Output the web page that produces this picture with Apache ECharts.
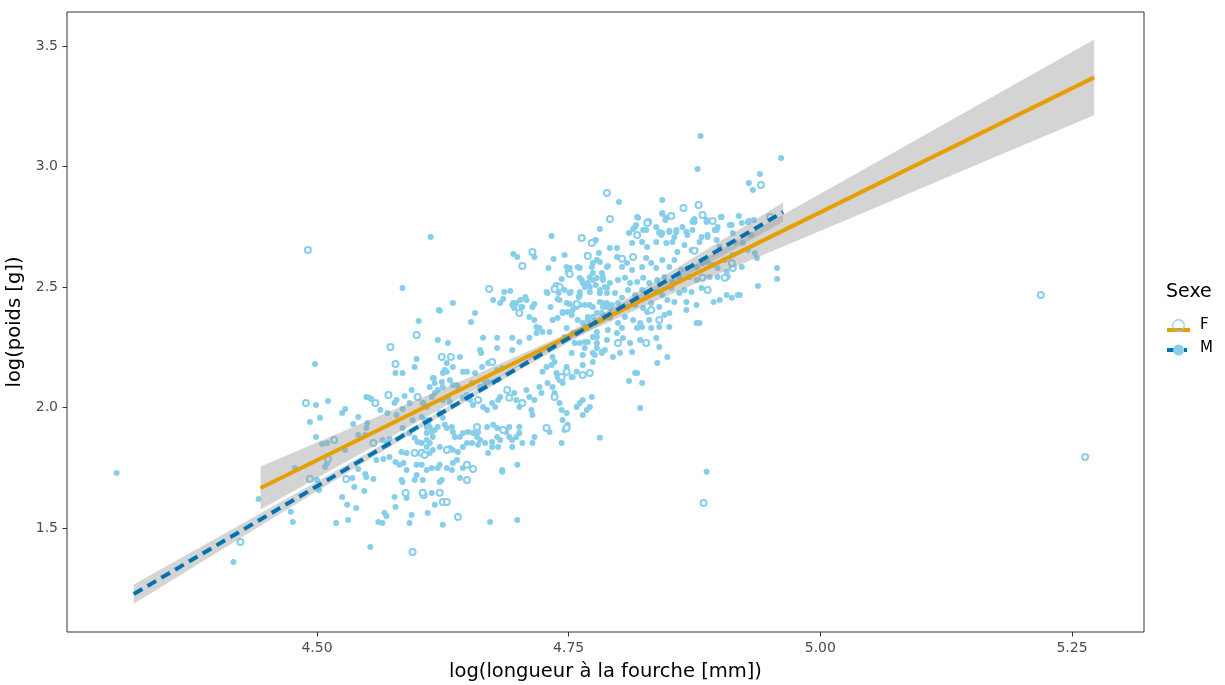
<!DOCTYPE html>
<html><head><meta charset="utf-8">
<script src="https://cdn.jsdelivr.net/npm/echarts@6/dist/echarts.min.js"></script>
<style>html,body{margin:0;padding:0;background:#fff}#c{width:1225px;height:685px}</style>
</head><body><div id="c"></div>
<script>
// ---- Data ----
const xTicks = [4.50, 4.75, 5.00, 5.25];
const yTicks = [1.5, 2.0, 2.5, 3.0, 3.5];
const legendLabels = ['F', 'M'];

// Females (open circles)
const femalePoints = [
[4.489,2.019],[4.558,2.019],[4.571,2.052],[4.600,2.044],[4.517,1.865],[4.556,1.853],[4.511,1.786],[4.493,1.703],
[4.529,1.703],[4.588,1.645],[4.595,1.400],[4.606,1.637],[4.597,1.811],[4.604,1.811],[4.424,1.442],[4.491,2.654],
[4.599,2.301],[4.573,2.251],[4.578,2.181],[4.624,2.210],[4.633,2.210],[4.674,2.189],[4.660,2.031],[4.689,2.073],
[4.691,2.040],[4.704,2.019],[4.764,2.135],[4.771,2.143],[4.736,2.044],[4.748,1.915],[4.728,1.915],[4.748,2.148],
[4.701,2.392],[4.607,1.803],[4.629,1.824],[4.659,1.919],[4.685,1.907],[4.649,1.699],[4.649,1.762],[4.655,1.745],
[4.605,1.646],[4.622,1.646],[4.625,1.608],[4.629,1.608],[4.640,1.546],[4.763,2.703],[4.773,2.683],[4.714,2.645],
[4.704,2.587],[4.751,2.554],[4.738,2.504],[4.741,2.500],[4.736,2.492],[4.758,2.430],[4.671,2.492],[4.769,2.629],
[4.803,2.617],[4.788,2.890],[4.941,2.923],[4.864,2.828],[4.879,2.840],[4.791,2.782],[4.852,2.795],[4.829,2.770],
[4.883,2.799],[4.893,2.774],[4.818,2.716],[4.828,2.766],[4.814,2.625],[4.875,2.650],[4.913,2.579],[4.883,2.538],
[4.905,2.538],[4.888,2.488],[4.832,2.405],[4.840,2.363],[4.799,2.268],[4.827,2.268],[4.743,2.127],[4.884,1.604],
[4.950,2.791],[4.912,2.600],[5.219,2.467],[5.263,1.795]
];

// Males (filled circles)
const malePoints = [
[4.301,1.728],[4.417,1.359],[4.442,1.620],
[4.499,2.010],[4.511,2.027],[4.493,1.940],[4.503,1.957],[4.525,1.977],[4.528,1.994],[4.541,1.961],[4.536,1.932],
[4.549,2.044],[4.552,2.040],[4.554,2.035],[4.550,1.936],[4.549,1.915],[4.563,1.990],[4.579,2.031],[4.577,2.019],
[4.587,2.048],[4.594,2.073],[4.592,2.019],[4.606,2.019],[4.570,1.977],[4.579,1.969],[4.585,1.994],[4.595,1.948],
[4.499,1.878],[4.505,1.849],[4.510,1.853],[4.528,1.824],[4.541,1.886],[4.548,1.886],[4.565,1.865],[4.569,1.853],
[4.572,1.869],[4.478,1.749],[4.508,1.753],[4.510,1.770],[4.500,1.699],[4.502,1.658],[4.474,1.567],[4.476,1.525],
[4.525,1.629],[4.530,1.596],[4.539,1.583],[4.519,1.521],[4.531,1.533],[4.535,1.708],[4.537,1.670],[4.541,1.745],
[4.548,1.724],[4.549,1.712],[4.556,1.703],[4.547,1.654],[4.577,1.629],[4.578,1.587],[4.589,1.625],[4.594,1.554],
[4.592,1.521],[4.567,1.562],[4.569,1.550],[4.565,1.521],[4.561,1.525],[4.553,1.421],[4.610,1.562],[4.597,1.699],
[4.599,1.720],[4.605,1.699],[4.584,1.699],[4.585,1.691],[4.584,1.815],[4.589,1.811],[4.609,1.836],[4.559,1.782],
[4.566,1.786],[4.572,1.795],[4.578,1.774],[4.582,1.762],[4.586,1.770],[4.589,1.741],[4.599,1.762],[4.604,1.762],
[4.592,1.894],[4.597,1.874],[4.600,1.857],[4.604,1.853],[4.609,1.865],[4.585,1.915],[4.609,1.919],[4.610,1.948],
[4.613,2.708],[4.585,2.496],[4.498,2.181],[4.621,2.405],[4.601,2.359],[4.620,2.280],[4.599,2.201],[4.597,2.168],
[4.578,2.143],[4.585,2.143],[4.616,2.122],
[4.635,2.434],[4.622,2.401],[4.653,2.355],[4.657,2.392],[4.630,2.268],[4.665,2.289],[4.679,2.289],[4.662,2.239],
[4.663,2.226],[4.679,2.247],[4.694,2.239],[4.701,2.272],[4.694,2.289],[4.711,2.289],[4.718,2.309],[4.731,2.313],
[4.642,2.210],[4.629,2.185],[4.627,2.156],[4.629,2.148],[4.625,2.143],[4.635,2.168],[4.645,2.148],[4.649,2.148],
[4.657,2.143],[4.664,2.168],[4.670,2.185],[4.679,2.156],[4.684,2.164],[4.615,2.122],[4.617,2.102],[4.612,2.085],
[4.624,2.106],[4.625,2.085],[4.632,2.114],[4.635,2.093],[4.639,2.093],[4.640,2.085],[4.654,2.102],[4.662,2.085],
[4.667,2.102],[4.670,2.106],[4.675,2.106],[4.679,2.114],[4.605,2.019],[4.609,2.002],[4.614,2.044],[4.617,2.060],
[4.620,2.073],[4.625,2.031],[4.630,2.044],[4.632,2.023],[4.645,2.040],[4.649,2.052],[4.652,2.031],[4.655,2.010],
[4.665,2.002],[4.669,1.990],[4.674,2.019],[4.677,2.002],[4.680,2.031],[4.682,2.044],[4.696,2.060],[4.698,2.031],
[4.701,2.002],[4.708,2.073],[4.711,2.044],[4.716,2.031],[4.713,1.990],[4.714,1.969],[4.721,2.085],[4.723,2.060],
[4.729,2.102],[4.734,2.085],[4.736,2.060],[4.738,2.143],[4.739,2.127],[4.734,2.210],[4.736,2.189],[4.733,2.176],
[4.748,2.168],[4.728,2.168],[4.724,2.148],[4.741,2.114],[4.744,2.102],[4.753,2.127],[4.758,2.148],[4.774,2.189],
[4.776,2.218],[4.778,2.247],[4.783,2.231],[4.786,2.239],[4.794,2.210],[4.761,2.268],[4.766,2.247],[4.769,2.272],
[4.774,2.293],[4.778,2.293],[4.754,2.309],[4.758,2.313],[4.764,2.351],[4.769,2.363],[4.774,2.376],[4.778,2.392],
[4.784,2.417],[4.788,2.434],[4.793,2.425],[4.734,2.363],[4.739,2.371],[4.744,2.392],[4.749,2.396],[4.754,2.405],
[4.758,2.417],[4.761,2.425],[4.711,2.376],[4.716,2.363],[4.718,2.334],[4.721,2.330],[4.724,2.313],[4.704,2.417],
[4.698,2.434],[4.708,2.446],[4.714,2.417],[4.694,2.425],[4.696,2.413],[4.675,2.446],[4.682,2.434],[4.758,2.002],
[4.761,2.019],[4.764,2.031],[4.768,1.990],[4.771,2.002],[4.773,2.044],[4.764,1.969],[4.741,2.019],[4.743,1.990],
[4.748,1.977],[4.744,1.948],[4.749,1.928],[4.746,1.907],[4.731,1.898],[4.781,1.874],[4.743,1.853],[4.716,1.878],
[4.714,1.853],[4.622,1.977],[4.625,1.957],[4.627,1.928],[4.629,1.915],[4.634,1.919],[4.635,1.898],[4.637,1.878],
[4.642,1.878],[4.645,1.894],[4.650,1.898],[4.655,1.894],[4.659,1.878],[4.654,1.853],[4.649,1.853],[4.645,1.836],
[4.640,1.815],[4.635,1.824],[4.632,1.832],[4.622,1.836],[4.615,1.824],[4.612,1.811],[4.604,1.815],[4.604,1.961],
[4.607,1.948],[4.610,1.936],[4.612,1.919],[4.609,1.894],[4.614,1.898],[4.617,1.907],[4.620,1.919],[4.615,1.878],
[4.612,1.853],[4.662,1.865],[4.660,1.845],[4.667,1.853],[4.674,1.857],[4.679,1.878],[4.682,1.865],[4.688,1.898],
[4.691,1.919],[4.691,1.878],[4.694,1.865],[4.698,1.878],[4.701,1.919],[4.701,1.894],[4.704,1.853],[4.694,1.836],
[4.669,1.919],[4.675,1.928],[4.679,1.915],[4.660,1.898],[4.674,1.836],[4.680,1.836],[4.670,1.811],[4.609,1.741],
[4.614,1.749],[4.620,1.749],[4.622,1.762],[4.629,1.749],[4.634,1.741],[4.635,1.770],[4.639,1.782],[4.642,1.708],
[4.622,1.691],[4.624,1.699],[4.645,1.749],[4.684,1.733],[4.684,1.741],[4.699,1.762],[4.614,1.645],[4.617,1.596],
[4.625,1.513],[4.672,1.525],[4.699,1.533],
[4.733,2.712],[4.776,2.691],[4.695,2.637],[4.699,2.625],[4.716,2.625],[4.735,2.616],[4.746,2.633],[4.730,2.579],
[4.748,2.583],[4.751,2.579],[4.749,2.562],[4.759,2.583],[4.768,2.633],[4.774,2.600],[4.778,2.612],[4.780,2.641],
[4.789,2.587],[4.743,2.533],[4.728,2.479],[4.729,2.475],[4.740,2.475],[4.752,2.479],[4.761,2.479],[4.766,2.500],
[4.771,2.541],[4.778,2.537],[4.783,2.558],[4.784,2.529],[4.786,2.500],[4.764,2.517],[4.771,2.500],[4.777,2.508],
[4.781,2.488],[4.788,2.475],[4.761,2.537],[4.686,2.479],[4.692,2.483],[4.685,2.450],[4.695,2.434],[4.702,2.446],
[4.707,2.459],[4.716,2.430],[4.703,2.417],[4.739,2.450],[4.732,2.417],[4.751,2.430],[4.760,2.459],[4.771,2.425],
[4.781,2.438],[4.788,2.417],
[4.818,2.791],[4.824,2.737],[4.837,2.749],[4.840,2.724],[4.843,2.807],[4.846,2.778],[4.857,2.737],[4.850,2.728],
[4.863,2.749],[4.867,2.728],[4.873,2.737],[4.873,2.770],[4.875,2.782],[4.887,2.770],[4.897,2.737],[4.902,2.791],
[4.912,2.757],[4.919,2.795],[4.922,2.766],[4.928,2.770],[4.931,2.716],
[4.810,2.724],[4.816,2.749],[4.819,2.716],[4.813,2.683],[4.823,2.687],[4.828,2.666],[4.837,2.687],[4.842,2.716],
[4.847,2.683],[4.853,2.687],[4.858,2.645],[4.865,2.674],[4.872,2.654],[4.880,2.687],[4.888,2.716],[4.897,2.695],
[4.900,2.666],[4.905,2.612],[4.913,2.633],[4.915,2.687],[4.923,2.683],[4.928,2.654],[4.935,2.641],[4.937,2.620],
[4.791,2.662],[4.788,2.583],[4.781,2.604],[4.773,2.583],[4.774,2.558],[4.761,2.579],[4.798,2.625],[4.803,2.583],
[4.808,2.600],[4.813,2.571],[4.823,2.583],[4.827,2.620],[4.832,2.600],[4.837,2.579],[4.843,2.612],[4.850,2.583],
[4.855,2.612],[4.862,2.571],[4.868,2.579],[4.877,2.583],[4.883,2.600],[4.888,2.604],[4.893,2.591],[4.898,2.579],
[4.907,2.562],[4.922,2.583],
[4.763,2.529],[4.769,2.517],[4.774,2.529],[4.784,2.542],[4.791,2.517],[4.799,2.529],[4.806,2.538],[4.811,2.517],
[4.818,2.521],[4.824,2.538],[4.830,2.517],[4.838,2.529],[4.845,2.542],[4.853,2.521],[4.860,2.538],[4.870,2.542],
[4.877,2.529],[4.890,2.542],[4.898,2.542],[4.908,2.542],[4.746,2.488],[4.751,2.475],[4.761,2.467],[4.771,2.479],
[4.781,2.475],[4.788,2.496],[4.796,2.475],[4.803,2.455],[4.809,2.488],[4.816,2.467],[4.823,2.488],[4.828,2.467],
[4.837,2.479],[4.843,2.467],[4.852,2.496],[4.860,2.475],[4.865,2.488],[4.872,2.479],[4.882,2.496],[4.741,2.446],
[4.748,2.434],[4.756,2.417],[4.766,2.425],[4.774,2.417],[4.784,2.434],[4.791,2.413],[4.799,2.434],[4.808,2.417],
[4.816,2.425],[4.824,2.413],[4.832,2.434],[4.840,2.417],[4.848,2.446],[4.855,2.438],[4.867,2.438],[4.877,2.425],
[4.900,2.446],[4.907,2.467],[4.920,2.467],
[4.744,2.396],[4.753,2.384],[4.759,2.363],[4.769,2.376],[4.776,2.351],[4.783,2.392],[4.791,2.372],[4.799,2.351],
[4.806,2.376],[4.814,2.363],[4.821,2.351],[4.828,2.396],[4.830,2.363],[4.845,2.384],[4.850,2.392],[4.867,2.405],
[4.748,2.330],[4.758,2.309],[4.768,2.334],[4.778,2.313],[4.789,2.322],[4.798,2.309],[4.803,2.330],[4.818,2.330],
[4.823,2.334],[4.832,2.330],[4.840,2.334],[4.850,2.334],[4.877,2.351],[4.880,2.351],
[4.746,2.293],[4.756,2.268],[4.766,2.272],[4.778,2.268],[4.788,2.280],[4.804,2.288],[4.811,2.268],[4.821,2.280],
[4.837,2.288],[4.840,2.251],[4.848,2.210],[4.838,2.185],[4.813,2.230],[4.801,2.226],[4.783,2.226],[4.774,2.226],
[4.764,2.218],[4.753,2.226],[4.816,2.143],[4.764,2.176],[4.748,2.156],[4.754,2.127],
[4.881,3.127],[4.961,3.035],[4.878,2.990],[4.940,2.969],[4.929,2.932],[4.933,2.903],[4.800,2.853],[4.843,2.861],
[4.819,2.787],[4.843,2.803],[4.847,2.787],[4.874,2.778],[4.875,2.770],[4.887,2.778],[4.901,2.791],[4.929,2.774],
[4.934,2.778],[4.781,2.741],[4.814,2.741],[4.817,2.757],[4.827,2.737],[4.840,2.728],[4.850,2.733],[4.857,2.728],
[4.843,2.724],[4.868,2.716],[4.882,2.708],[4.888,2.708],[4.895,2.737],[4.898,2.749],[4.910,2.757],[4.913,2.724],
[4.855,2.708],[4.774,2.687],[4.777,2.695],[4.798,2.662],
[4.957,2.579],[4.957,2.533],[4.938,2.504],[4.918,2.467],[4.912,2.455],[4.894,2.438],
[4.818,2.143],[4.810,2.110],[4.823,2.102],[4.821,1.998],[4.887,1.733]
];

// Fitted lines (ends) and confidence bands
const fFitX = [4.444, 5.272];
const fFitY = [1.666, 3.370];
const mFitX = [4.318, 4.963];
const mFitY = [1.226, 2.811];
const fBandX  = [4.444, 4.55, 4.65, 4.745, 4.85, 4.95, 5.05, 5.15, 5.272];
const fBandLo = [1.577, 1.824, 2.058, 2.270, 2.467, 2.645, 2.821, 2.998, 3.213];
const fBandHi = [1.755, 1.944, 2.122, 2.300, 2.536, 2.770, 3.004, 3.240, 3.527];
const mBandX  = [4.318, 4.40, 4.50, 4.60, 4.70, 4.80, 4.90, 4.963];
const mBandLo = [1.186, 1.396, 1.653, 1.908, 2.153, 2.388, 2.623, 2.771];
const mBandHi = [1.266, 1.458, 1.693, 1.930, 2.177, 2.432, 2.689, 2.851];

// ---- Chart ----
const FONT = 'DejaVu Sans';
const PT = '#87CEEB', ORANGE = '#E69F00', BLUE = '#0072B2';
const chart = echarts.init(document.getElementById('c'), null, {renderer: 'canvas'});

function band(xs, lo, hi) {
  return {
    type: 'custom', silent: true, z: 3,
    data: xs.map((x, i) => [x, lo[i], hi[i]]),
    encode: {x: 0, y: [1, 2]},
    renderItem: function (params, api) {
      if (params.dataIndex !== 0) return null;
      const pts = [];
      for (let i = 0; i < xs.length; i++) pts.push(api.coord([xs[i], hi[i]]));
      for (let i = xs.length - 1; i >= 0; i--) pts.push(api.coord([xs[i], lo[i]]));
      return {type: 'polygon', shape: {points: pts}, style: {fill: 'rgba(153,153,153,0.42)'}};
    }
  };
}
function fit(xs, ys, color, dash, z) {
  return {
    type: 'line', silent: true, z: z, showSymbol: false, symbol: 'none',
    data: xs.map((x, i) => [x, ys[i]]),
    lineStyle: {color: color, width: 4, type: dash, cap: 'butt'}
  };
}

const option = {
  animation: false,
  backgroundColor: '#fff',
  grid: {left: 67, top: 12, right: 81, bottom: 53, outerBoundsMode: 'none', containLabel: false,
    show: true, borderColor: '#333333', borderWidth: 1, backgroundColor: 'transparent'},
  xAxis: {
    type: 'value', min: 4.2517, max: 5.3215,
    name: 'log(longueur à la fourche [mm])', nameLocation: 'middle', nameGap: 30,
    nameTextStyle: {fontFamily: FONT, fontSize: 19.5, color: '#000'},
    axisLine: {show: false}, splitLine: {show: false},
    axisTick: {show: true, length: 4.5, lineStyle: {color: '#333333', width: 1}, customValues: xTicks},
    axisLabel: {fontFamily: FONT, fontSize: 14, color: '#4D4D4D', margin: 9, customValues: xTicks,
      formatter: v => v.toFixed(2)}
  },
  yAxis: {
    type: 'value', min: 1.0685, max: 3.6411,
    name: 'log(poids [g])', nameLocation: 'middle', nameGap: 40, nameRotate: 90,
    nameTextStyle: {fontFamily: FONT, fontSize: 19.5, color: '#000'},
    axisLine: {show: false}, splitLine: {show: false},
    axisTick: {show: true, length: 4.5, lineStyle: {color: '#333333', width: 1}, customValues: yTicks},
    axisLabel: {fontFamily: FONT, fontSize: 14, color: '#4D4D4D', margin: 9, customValues: yTicks,
      formatter: v => v.toFixed(1)}
  },
  series: [
    {type: 'scatter', name: 'M', z: 2, silent: true, data: malePoints, symbol: 'circle', symbolSize: 6,
      itemStyle: {color: PT, opacity: 1}},
    {type: 'scatter', name: 'F', z: 2, silent: true, data: femalePoints, symbol: 'emptyCircle', symbolSize: 6,
      itemStyle: {color: PT, borderColor: PT, borderWidth: 1.1, opacity: 1}},
    band(fBandX, fBandLo, fBandHi),
    fit(fFitX, fFitY, ORANGE, 'solid', 4),
    band(mBandX, mBandLo, mBandHi),
    fit(mFitX, mFitY, BLUE, [10, 6], 5)
  ],
  graphic: [
    {type: 'text', left: 1166, top: 283, style: {text: 'Sexe', fontFamily: FONT, fontSize: 19, fill: '#000'}},
    {type: 'line', shape: {x1: 1167, y1: 330, x2: 1190, y2: 330}, style: {stroke: ORANGE, lineWidth: 4}},
    {type: 'circle', shape: {cx: 1178.5, cy: 325.5, r: 5.8}, style: {fill: 'none', stroke: PT, lineWidth: 1.2}},
    {type: 'text', left: 1200, top: 318, style: {text: legendLabels[0], fontFamily: FONT, fontSize: 15, fill: '#000'}},
    {type: 'rect', shape: {x: 1167, y: 348, width: 9, height: 4}, style: {fill: BLUE}},
    {type: 'rect', shape: {x: 1184, y: 348, width: 3, height: 4}, style: {fill: BLUE}},
    {type: 'circle', shape: {cx: 1178.5, cy: 350, r: 5.5}, style: {fill: PT}},
    {type: 'text', left: 1200, top: 341, style: {text: legendLabels[1], fontFamily: FONT, fontSize: 15, fill: '#000'}}
  ]
};
chart.setOption(option);
</script>
</body></html>
